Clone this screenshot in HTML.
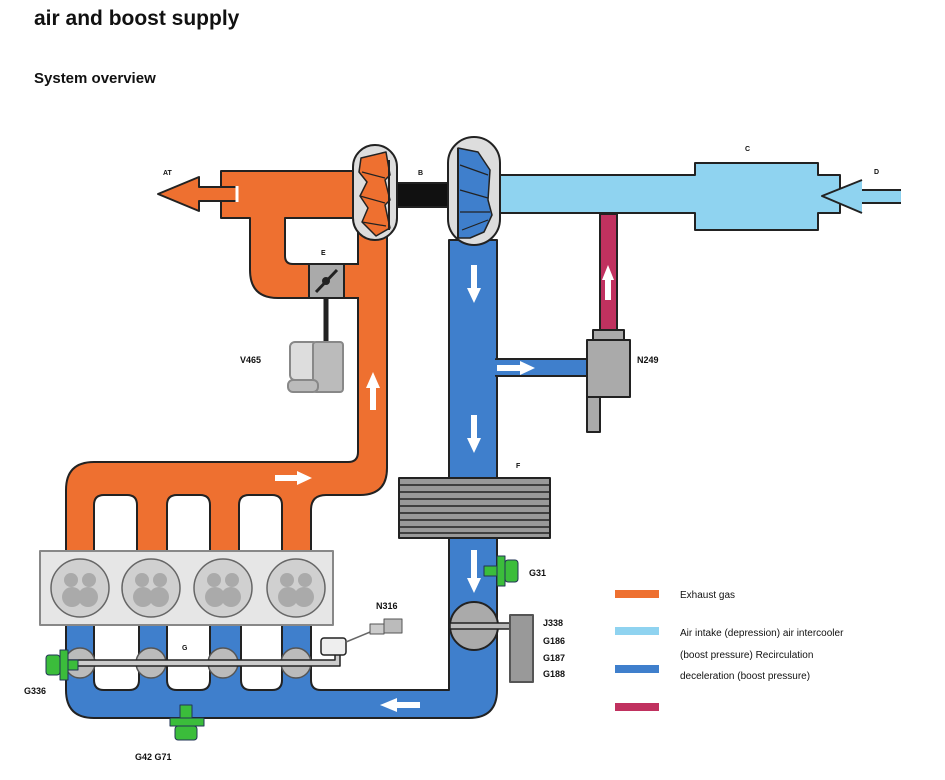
<!DOCTYPE html>
<html><head><meta charset="utf-8"><style>
html,body{margin:0;padding:0;background:#fff;}
body{width:945px;height:780px;position:relative;overflow:hidden;font-family:"Liberation Sans",Arial,sans-serif;}
.t{position:absolute;left:34px;top:7px;font-size:21px;font-weight:bold;color:#111;}
.s{position:absolute;left:34px;top:70px;font-size:15px;font-weight:bold;color:#111;}
svg{position:absolute;left:0;top:0;}
svg text{font-family:"Liberation Sans",Arial,sans-serif;font-weight:bold;fill:#111;}
</style></head><body>
<div class="t">air and boost supply</div>
<div class="s">System overview</div>
<svg width="945" height="780" viewBox="0 0 945 780">
<g stroke="#222" stroke-width="2" stroke-linejoin="round">
<!-- light blue intake -->
<path d="M497 175 L695 175 L695 163 L818 163 L818 175 L840 175 L840 213 L818 213 L818 230 L695 230 L695 213 L497 213 Z" fill="#8fd3f0"/>
<path d="M822 196 L862 180 L862 190 L901 190 L901 203 L862 203 L862 213 Z" fill="#8fd3f0" stroke="none"/>
<path d="M862 180 L822 196 L862 213 M862 190 L901 190 M862 203 L901 203" fill="none"/>
<!-- magenta -->
<rect x="600" y="214" width="17" height="116" fill="#c0315f"/>
<rect x="593" y="330" width="31" height="10" fill="#aaa"/>
<!-- blue main -->
<path d="M66 625 L66 690 Q66 718 94 718 L469 718 Q497 718 497 690 L497 240 L449 240 L449 690 L321 690 Q311 690 311 680 L311 625 L282 625 L282 680 Q282 690 272 690 L251 690 Q241 690 241 680 L241 625 L210 625 L210 680 Q210 690 200 690 L177 690 Q167 690 167 680 L167 625 L139 625 L139 680 Q139 690 129 690 L104 690 Q94 690 94 680 L94 625 Z" fill="#3f7fcc"/>
<!-- blue branch -->
<rect x="496" y="359" width="92" height="17" fill="#3f7fcc"/>
<rect x="494" y="360" width="6" height="15" fill="#3f7fcc" stroke="none"/>
<rect x="587" y="340" width="43" height="57" fill="#aaa"/>
<rect x="587" y="397" width="13" height="35" fill="#aaa"/>
<!-- intercooler -->
<rect x="399" y="478" width="151" height="60" fill="#999"/>
<g stroke-width="1.5"><line x1="399" y1="485" x2="550" y2="485"/><line x1="399" y1="492" x2="550" y2="492"/><line x1="399" y1="499" x2="550" y2="499"/><line x1="399" y1="506" x2="550" y2="506"/><line x1="399" y1="513" x2="550" y2="513"/><line x1="399" y1="520" x2="550" y2="520"/><line x1="399" y1="527" x2="550" y2="527"/><line x1="399" y1="533" x2="550" y2="533"/></g>
<!-- orange exhaust -->
<path d="M221 171 L356 171 L356 218 L285 218 L285 256 Q285 264 293 264 L360 264 L360 298 L344 298 L278 298 Q250 298 250 270 L250 218 L221 218 Z" fill="#ee7030"/>
<path d="M358 230 L358 452 Q358 462 348 462 L94 462 Q66 462 66 490 L66 551 L94 551 L94 505 Q94 495 104 495 L127 495 Q137 495 137 505 L137 551 L167 551 L167 505 Q167 495 177 495 L200 495 Q210 495 210 505 L210 551 L239 551 L239 505 Q239 495 249 495 L272 495 Q282 495 282 505 L282 551 L311 551 L311 510 Q311 495 326 495 L360 495 Q387 495 387 468 L387 230 Z" fill="#ee7030"/>
<rect x="356" y="265" width="4" height="32" fill="#ee7030" stroke="none"/>
<path d="M158 194 L199 177 L199 187 L237 187 L237 201 L199 201 L199 211 Z" fill="#ee7030"/>
<line x1="237" y1="186" x2="237" y2="202" stroke="#fff" stroke-width="3"/>
<!-- E valve -->
<rect x="309" y="264" width="35" height="34" fill="#aaa"/>
<line x1="316" y1="292" x2="337" y2="270" stroke-width="3"/>
<circle cx="326" cy="281" r="3" fill="#222"/>
<line x1="326" y1="298" x2="326" y2="342" stroke-width="5"/>
<!-- V465 -->
<rect x="290" y="342" width="28" height="38" rx="5" fill="#ddd" stroke="#888"/>
<rect x="313" y="342" width="30" height="50" rx="3" fill="#bbb" stroke="#888"/>
<rect x="288" y="380" width="30" height="12" rx="5" fill="#bbb" stroke="#888"/>
<!-- shaft B -->
<rect x="396" y="183" width="54" height="24" fill="#111"/>
<!-- turbine -->
<rect x="353" y="145" width="44" height="95" rx="22" fill="#ddd"/>
<path d="M361 158 L386 152 L390 175 L385 180 L390 200 L385 205 L390 228 L376 236 L362 222 L368 208 L360 196 L367 182 L359 172 Z" fill="#ee7030" stroke-width="1.5"/>
<path d="M362 172 L385 178 M360 196 L385 203 M362 222 L386 226" stroke-width="1.2" fill="none"/>
<line x1="389" y1="160" x2="389" y2="230" stroke-width="2"/>
<!-- compressor -->
<rect x="448" y="137" width="52" height="108" rx="26" fill="#ddd"/>
<path d="M458 148 L478 152 L490 170 L488 200 L492 215 L484 232 L470 238 L458 238 Z" fill="#3f7fcc" stroke-width="1.5"/>
<path d="M460 165 L488 175 M460 190 L488 198 M460 212 L490 212 M462 230 L488 220" stroke-width="1.2" fill="none"/>
<line x1="458" y1="148" x2="458" y2="238" stroke-width="2"/>
<!-- engine -->
<rect x="40" y="551" width="293" height="74" fill="#e6e6e6" stroke="#888"/>
<g fill="#d0d0d0" stroke="#666" stroke-width="1.5">
<circle cx="80" cy="588" r="29"/><circle cx="151" cy="588" r="29"/><circle cx="223" cy="588" r="29"/><circle cx="296" cy="588" r="29"/></g>
<g fill="#aaa" stroke="none">
<circle cx="71" cy="580" r="7"/><circle cx="89" cy="580" r="7"/><circle cx="72" cy="597" r="10"/><circle cx="88" cy="597" r="10"/>
<circle cx="142" cy="580" r="7"/><circle cx="160" cy="580" r="7"/><circle cx="143" cy="597" r="10"/><circle cx="159" cy="597" r="10"/>
<circle cx="214" cy="580" r="7"/><circle cx="232" cy="580" r="7"/><circle cx="215" cy="597" r="10"/><circle cx="231" cy="597" r="10"/>
<circle cx="287" cy="580" r="7"/><circle cx="305" cy="580" r="7"/><circle cx="288" cy="597" r="10"/><circle cx="304" cy="597" r="10"/></g>
<!-- flaps -->
<g fill="#bbb" stroke="#555" stroke-width="1.5">
<circle cx="80" cy="663" r="15"/><circle cx="151" cy="663" r="15"/><circle cx="223" cy="663" r="15"/><circle cx="296" cy="663" r="15"/></g>
<path d="M67 660 L335 660 L335 652 L340 652 L340 666 L67 666 Z" fill="#ccc" stroke-width="1.5"/>
<rect x="321" y="638" width="25" height="17" rx="3" fill="#eee" stroke-width="1.5"/>
<path d="M346 642 L375 630" fill="none" stroke="#666" stroke-width="1.5"/>
<rect x="370" y="624" width="14" height="10" fill="#ccc" stroke="#555" stroke-width="1"/>
<rect x="384" y="619" width="18" height="14" fill="#bbb" stroke="#555" stroke-width="1"/>
<!-- throttle J338 -->
<circle cx="474" cy="626" r="24" fill="#aaa"/>
<rect x="450" y="623" width="62" height="6" fill="#bbb" stroke-width="1.5"/>
<rect x="510" y="615" width="23" height="67" fill="#999" stroke="#555"/>
<!-- green sensors -->
<g fill="#3bbd3b" stroke="#235" stroke-width="1">
<rect x="497" y="556" width="8" height="30"/><rect x="505" y="560" width="13" height="22" rx="3"/><rect x="484" y="566" width="13" height="10"/>
<rect x="60" y="650" width="8" height="30"/><rect x="46" y="655" width="14" height="20" rx="3"/><rect x="68" y="660" width="10" height="10"/>
<rect x="170" y="718" width="34" height="8"/><rect x="175" y="726" width="22" height="14" rx="3"/><rect x="180" y="705" width="12" height="13"/>
</g>
</g>
<!-- white arrows -->
<g fill="#fff">
<path d="M370 410 L370 388 L366 388 L373 372 L380 388 L376 388 L376 410 Z"/>
<path d="M275 475 L297 475 L297 471 L312 478 L297 485 L297 481 L275 481 Z"/>
<path d="M471 265 L471 288 L467 288 L474 303 L481 288 L477 288 L477 265 Z"/>
<path d="M471 415 L471 438 L467 438 L474 453 L481 438 L477 438 L477 415 Z"/>
<path d="M471 550 L471 578 L467 578 L474 593 L481 578 L477 578 L477 550 Z"/>
<path d="M497 365 L520 365 L520 361 L535 368 L520 375 L520 371 L497 371 Z"/>
<path d="M420 702 L397 702 L397 698 L380 705 L397 712 L397 708 L420 708 Z"/>
<path d="M605 300 L605 280 L602 280 L608 265 L614 280 L611 280 L611 300 Z"/>
</g>
<!-- legend -->
<rect x="615" y="590" width="44" height="8" fill="#ee7030"/>
<rect x="615" y="627" width="44" height="8" fill="#8fd3f0"/>
<rect x="615" y="665" width="44" height="8" fill="#3f7fcc"/>
<rect x="615" y="703" width="44" height="8" fill="#c0315f"/>
<g font-size="10">
<text x="680" y="598" style="font-weight:normal">Exhaust gas</text>
<text x="680" y="636" style="font-weight:normal">Air intake (depression) air intercooler</text>
<text x="680" y="658" style="font-weight:normal">(boost pressure) Recirculation</text>
<text x="680" y="679" style="font-weight:normal">deceleration (boost pressure)</text>
</g>
<!-- labels -->
<g font-size="7"><text x="163" y="175">AT</text><text x="418" y="175">B</text><text x="745" y="151">C</text><text x="874" y="174">D</text><text x="321" y="255">E</text><text x="516" y="468">F</text><text x="182" y="650">G</text></g>
<g font-size="9">
<text x="240" y="363">V465</text><text x="637" y="363">N249</text><text x="529" y="576">G31</text><text x="376" y="609">N316</text>
<text x="543" y="626">J338</text><text x="543" y="644">G186</text><text x="543" y="661">G187</text><text x="543" y="677">G188</text>
<text x="24" y="694">G336</text><text x="135" y="760">G42 G71</text></g>
</svg>
</body></html>
